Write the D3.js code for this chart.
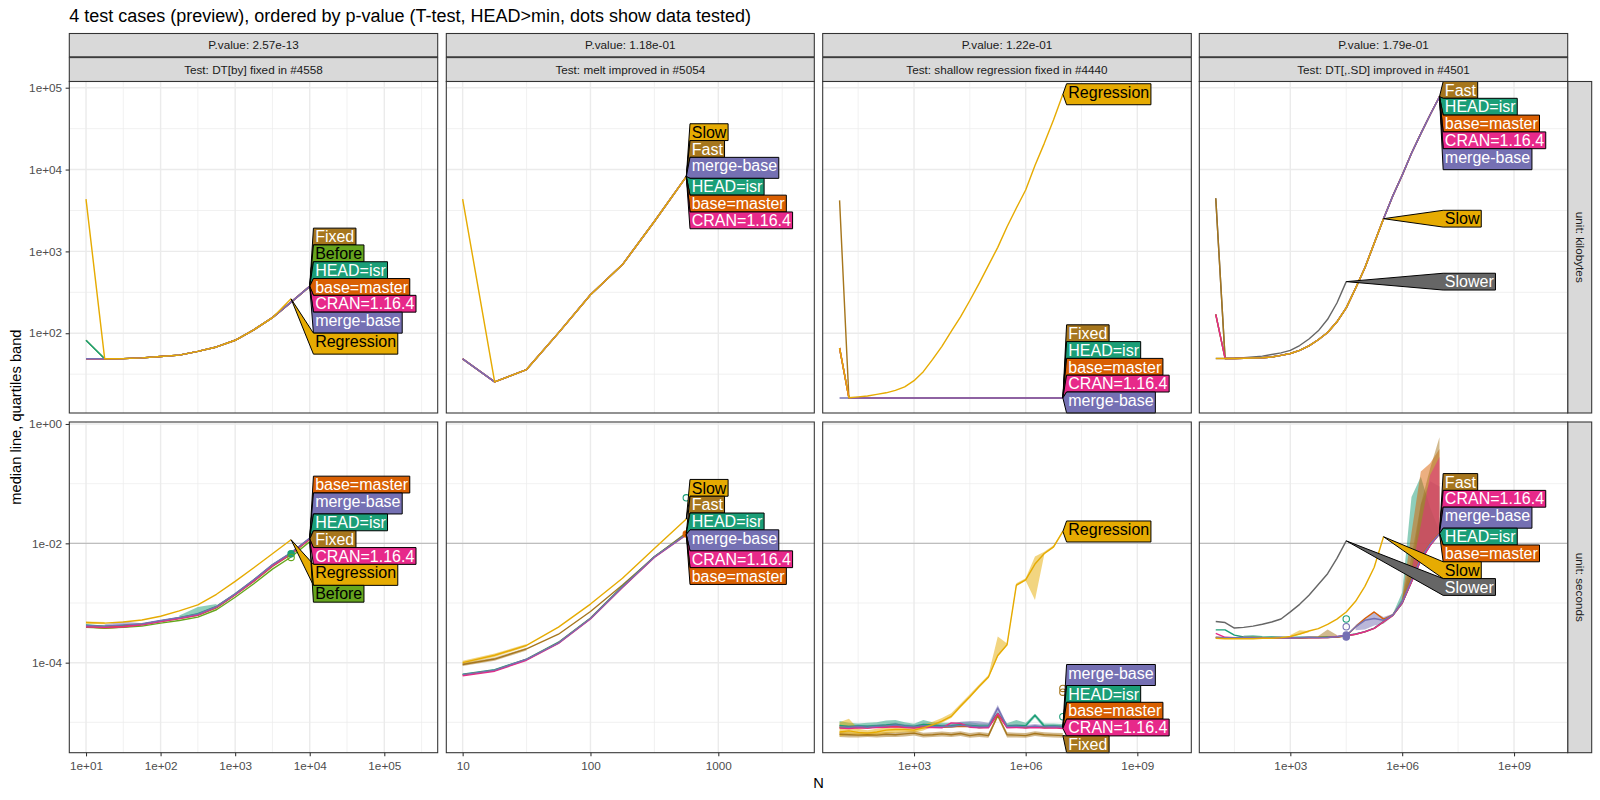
<!DOCTYPE html>
<html><head><meta charset="utf-8">
<script src="https://cdn.jsdelivr.net/npm/d3@7"></script>
<style>
body{margin:0;background:#fff}
svg{display:block}
text{font-family:"Liberation Sans",Arial,Helvetica,sans-serif}
</style>
</head><body>
<svg id="c" width="1600" height="800"></svg>
<script>
// ------------------------------------------------------------------ data
const title = "4 test cases (preview), ordered by p-value (T-test, HEAD>min, dots show data tested)";
const testNames = ["Test: DT[by] fixed in #4558", "Test: melt improved in #5054", "Test: shallow regression fixed in #4440", "Test: DT[,.SD] improved in #4501"];
const pValueLabels = ["P.value: 2.57e-13", "P.value: 1.18e-01", "P.value: 1.22e-01", "P.value: 1.79e-01"];
const unitLabels = ["unit: kilobytes", "unit: seconds"];
const yTitle = "median line, quartiles band";
const xTitle = "N";

const seriesColors = {
  "HEAD=isr": "#1B9E77", "base=master": "#D95F02", "merge-base": "#7570B3", "CRAN=1.16.4": "#E7298A",
  "Before": "#66A61E", "Regression": "#E6AB02", "Slow": "#E6AB02", "Fixed": "#A6761D", "Fast": "#A6761D", "Slower": "#666666"
};
const darkTextSeries = ["Before", "Regression", "Slow"];
const drawOrder = ["Slower", "Before", "Fixed", "Fast", "HEAD=isr", "base=master", "CRAN=1.16.4", "merge-base", "Regression", "Slow"];

const N_13 = [10, 17.8, 31.6, 56.2, 100, 178, 316, 562, 1000, 1778, 3162, 5623, 10000];
const N_8 = [10, 17.8, 31.6, 56.2, 100, 178, 316, 562];
const N_25 = [10, 17.8, 31.6, 56.2, 100, 178, 316, 562, 1000, 1778, 3162, 5623, 10000, 17783, 31623, 56234, 100000, 177828, 316228, 562341, 1000000, 1778279, 3162278, 5623413, 10000000];

// axes
const xTickValues = [[10, 100, 1000, 10000, 100000], [10, 100, 1000], [1e3, 1e6, 1e9], [1e3, 1e6, 1e9]];
const xTickLabels = [["1e+01", "1e+02", "1e+03", "1e+04", "1e+05"], ["10", "100", "1000"], ["1e+03", "1e+06", "1e+09"], ["1e+03", "1e+06", "1e+09"]];
const xDomains = [[5.97, 520000], [7.45, 5636], [3.52, 2.82e10], [3.62, 2.75e10]];
const yTickValues = [[1e2, 1e3, 1e4, 1e5], [1e-4, 1e-2, 1]];
const yTickLabels = [["1e+02", "1e+03", "1e+04", "1e+05"], ["1e-04", "1e-02", "1e+00"]];
const yDomains = [[10.6, 119100], [3.1e-6, 1.08]];
const secondsRefLine = [0.01];

// ---- DT[by] fixed in #4558
const kbDTby = {
  "HEAD=isr":    [82, 48.7, 49, 50, 52, 54, 60, 68, 82, 110, 155, 240, 374],
  "base=master": [48.7, 48.7, 49, 50, 52, 54, 60, 68, 82, 110, 155, 240, 374],
  "merge-base":  [48.7, 48.7, 49, 50, 52, 54, 60, 68, 82, 110, 155, 240, 374],
  "CRAN=1.16.4": [48.7, 48.7, 49, 50, 52, 54, 60, 68, 82, 110, 155, 240, 374],
  "Before":      [82, 48.7, 49, 50, 52, 54, 60, 68, 82, 110, 155, 240, 374],
  "Fixed":       [48.7, 48.7, 49, 50, 52, 54, 60, 68, 82, 110, 155, 240, 374],
  "Regression":  [4350, 48.7, 49, 50, 52, 54, 60, 68, 82, 110, 155, 263]
};
const secDTby = {
  "HEAD=isr":    [4.3e-4, 4.1e-4, 4.2e-4, 4.4e-4, 5.0e-4, 5.7e-4, 6.6e-4, 8.8e-4, 1.42e-3, 2.45e-3, 4.35e-3, 6.9e-3, 1.22e-2],
  "base=master": [4.1e-4, 3.95e-4, 4.1e-4, 4.4e-4, 5.0e-4, 5.6e-4, 6.4e-4, 8.6e-4, 1.4e-3, 2.4e-3, 4.3e-3, 6.8e-3, 1.2e-2],
  "merge-base":  [4.2e-4, 4.1e-4, 4.3e-4, 4.5e-4, 5.1e-4, 5.7e-4, 6.5e-4, 8.7e-4, 1.42e-3, 2.45e-3, 4.4e-3, 7.0e-3, 1.23e-2],
  "CRAN=1.16.4": [4.0e-4, 3.9e-4, 4.0e-4, 4.3e-4, 4.9e-4, 5.5e-4, 6.3e-4, 8.5e-4, 1.38e-3, 2.35e-3, 4.2e-3, 6.7e-3, 1.19e-2],
  "Before":      [3.9e-4, 3.8e-4, 3.9e-4, 4.1e-4, 4.6e-4, 5.1e-4, 5.8e-4, 7.7e-4, 1.25e-3, 2.1e-3, 3.7e-3, 5.9e-3, 1.07e-2],
  "Fixed":       [4.0e-4, 3.8e-4, 3.95e-4, 4.3e-4, 4.9e-4, 5.5e-4, 6.2e-4, 8.3e-4, 1.36e-3, 2.3e-3, 4.1e-3, 6.5e-3, 1.17e-2],
  "Regression":  [4.7e-4, 4.6e-4, 4.8e-4, 5.2e-4, 6.0e-4, 7.4e-4, 9.3e-4, 1.4e-3, 2.3e-3, 3.9e-3, 6.7e-3, 1.15e-2]
};
// bands: [series, start index, lower quartiles, upper quartiles]
const bandsDTby = [
  ["Fixed", 0, [3.9e-4, 3.7e-4, 3.85e-4], [4.1e-4, 3.95e-4, 4.05e-4]],
  ["Regression", 0, [4.5e-4, 4.4e-4], [4.9e-4, 4.8e-4]],
  ["merge-base", 1, [3.95e-4, 4.0e-4, 4.3e-4], [4.4e-4, 4.9e-4, 4.6e-4]],
  ["HEAD=isr", 5, [5.5e-4, 6.4e-4, 8.6e-4], [6.2e-4, 8.6e-4, 9.6e-4]]
];

// ---- melt improved in #5054
const kbMelt = {
  "Fast":        [48.7, 25.5, 36, 101, 295, 690, 2320, 8200],
  "HEAD=isr":    [48.7, 25.5, 36, 101, 295, 690, 2320, 8200],
  "base=master": [48.7, 25.5, 36, 101, 295, 690, 2320, 8200],
  "CRAN=1.16.4": [48.7, 25.5, 36, 101, 295, 690, 2320, 8200],
  "merge-base":  [48.7, 25.5, 36, 101, 295, 690, 2320, 8200],
  "Slow":        [4350, 25.5, 36, 101, 295, 690, 2320, 8200]
};
const secMelt = {
  "Slow":        [1.0e-4, 1.33e-4, 1.95e-4, 3.95e-4, 9.6e-4, 2.6e-3, 8.2e-3, 2.55e-2],
  "Fast":        [9.3e-5, 1.15e-4, 1.7e-4, 3.0e-4, 7.2e-4, 2.0e-3, 5.9e-3, 1.5e-2],
  "HEAD=isr":    [6.4e-5, 7.6e-5, 1.15e-4, 2.2e-4, 5.6e-4, 1.9e-3, 6.0e-3, 1.45e-2],
  "merge-base":  [6.3e-5, 7.5e-5, 1.14e-4, 2.15e-4, 5.5e-4, 1.85e-3, 5.9e-3, 1.4e-2],
  "CRAN=1.16.4": [6.0e-5, 7.2e-5, 1.1e-4, 2.1e-4, 5.4e-4, 1.82e-3, 5.8e-3, 1.38e-2],
  "base=master": [6.2e-5, 7.4e-5, 1.13e-4, 2.15e-4, 5.5e-4, 1.85e-3, 5.9e-3, 1.42e-2]
};
const bandsMelt = [
  ["Slow", 0, [9.5e-5, 1.25e-4, 1.85e-4], [1.08e-4, 1.42e-4, 2.05e-4]],
  ["Fast", 0, [8.8e-5, 1.08e-4, 1.6e-4], [9.8e-5, 1.22e-4, 1.78e-4]]
];

// ---- shallow regression fixed in #4440
const kbShallow = {
  "Fixed":       [4200, 16.2, 16.2, 16.2, 16.2, 16.2, 16.2, 16.2, 16.2, 16.2, 16.2, 16.2, 16.2, 16.2, 16.2, 16.2, 16.2, 16.2, 16.2, 16.2, 16.2, 16.2, 16.2, 16.2, 16.2],
  "HEAD=isr":    [66, 16.2, 16.2, 16.2, 16.2, 16.2, 16.2, 16.2, 16.2, 16.2, 16.2, 16.2, 16.2, 16.2, 16.2, 16.2, 16.2, 16.2, 16.2, 16.2, 16.2, 16.2, 16.2, 16.2, 16.2],
  "base=master": [66, 16.2, 16.2, 16.2, 16.2, 16.2, 16.2, 16.2, 16.2, 16.2, 16.2, 16.2, 16.2, 16.2, 16.2, 16.2, 16.2, 16.2, 16.2, 16.2, 16.2, 16.2, 16.2, 16.2, 16.2],
  "CRAN=1.16.4": [66, 16.2, 16.2, 16.2, 16.2, 16.2, 16.2, 16.2, 16.2, 16.2, 16.2, 16.2, 16.2, 16.2, 16.2, 16.2, 16.2, 16.2, 16.2, 16.2, 16.2, 16.2, 16.2, 16.2, 16.2],
  "merge-base":  [16.2, 16.2, 16.2, 16.2, 16.2, 16.2, 16.2, 16.2, 16.2, 16.2, 16.2, 16.2, 16.2, 16.2, 16.2, 16.2, 16.2, 16.2, 16.2, 16.2, 16.2, 16.2, 16.2, 16.2, 16.2],
  "Regression":  [66, 16.3, 16.7, 17.1, 17.9, 18.7, 20.0, 22.1, 26.3, 33.9, 47.9, 69.2, 105, 158, 251, 407, 676, 1120, 2000, 3390, 5620, 11200, 20900, 40700, 83200]
};
const secShallow = {
  "Fixed":       [6.3e-6, 6.2e-6, 6.1e-6, 6.2e-6, 6.1e-6, 6.3e-6, 6.2e-6, 6.4e-6, 6.6e-6, 6.1e-6, 6.2e-6, 6.4e-6, 6.2e-6, 6.5e-6, 6.0e-6, 6.3e-6, 6.0e-6, 1.3e-5, 6.2e-6, 6.1e-6, 6.0e-6, 6.5e-6, 6.2e-6, 6.1e-6, 6.0e-6],
  "HEAD=isr":    [8.9e-6, 8.5e-6, 8.7e-6, 8.6e-6, 8.8e-6, 9.0e-6, 9.3e-6, 8.8e-6, 8.5e-6, 9.2e-6, 9.0e-6, 8.7e-6, 8.8e-6, 9.1e-6, 8.9e-6, 8.6e-6, 8.7e-6, 1.41e-5, 8.7e-6, 8.9e-6, 8.8e-6, 1.32e-5, 8.6e-6, 8.7e-6, 8.5e-6],
  "base=master": [8.2e-6, 8.1e-6, 8.3e-6, 8.1e-6, 8.4e-6, 8.5e-6, 8.6e-6, 8.4e-6, 8.2e-6, 8.6e-6, 8.4e-6, 8.3e-6, 8.4e-6, 8.6e-6, 8.5e-6, 8.2e-6, 8.3e-6, 1.38e-5, 8.3e-6, 8.4e-6, 8.2e-6, 8.4e-6, 8.2e-6, 8.3e-6, 8.1e-6],
  "CRAN=1.16.4": [8.0e-6, 7.9e-6, 8.1e-6, 8.0e-6, 8.2e-6, 8.3e-6, 8.4e-6, 8.2e-6, 8.0e-6, 8.3e-6, 8.2e-6, 8.1e-6, 9.8e-6, 9.6e-6, 8.3e-6, 8.1e-6, 8.1e-6, 1.4e-5, 8.1e-6, 8.2e-6, 8.0e-6, 8.2e-6, 8.0e-6, 8.1e-6, 7.9e-6],
  "merge-base":  [8.4e-6, 8.3e-6, 8.5e-6, 8.3e-6, 8.6e-6, 8.7e-6, 9.0e-6, 8.6e-6, 8.4e-6, 8.8e-6, 8.6e-6, 8.5e-6, 8.5e-6, 8.9e-6, 8.7e-6, 8.4e-6, 8.5e-6, 1.74e-5, 8.5e-6, 8.6e-6, 8.4e-6, 8.7e-6, 8.4e-6, 8.5e-6, 8.3e-6],
  "Regression":  [6.9e-6, 7.2e-6, 6.8e-6, 6.6e-6, 6.9e-6, 7.4e-6, 7.6e-6, 7.6e-6, 7.4e-6, 8.1e-6, 9.1e-6, 1.05e-5, 1.26e-5, 1.86e-5, 2.69e-5, 3.98e-5, 5.75e-5, 1.32e-4, 2.0e-4, 2.0e-3, 2.45e-3, 4.5e-3, 6.76e-3, 8.71e-3, 1.58e-2]
};
const bandsShallow = [
  ["Fixed", 0,
    [5.7e-6, 5.6e-6, 5.6e-6, 5.7e-6, 5.6e-6, 5.7e-6, 5.7e-6, 5.8e-6, 6.0e-6, 5.6e-6, 5.7e-6, 5.8e-6, 5.7e-6, 5.9e-6, 5.5e-6, 5.7e-6, 5.5e-6, 1.2e-5, 5.6e-6, 5.6e-6, 5.5e-6, 5.9e-6, 5.7e-6, 5.6e-6, 5.5e-6],
    [6.9e-6, 6.8e-6, 6.7e-6, 6.8e-6, 6.7e-6, 6.9e-6, 6.8e-6, 7.0e-6, 7.2e-6, 6.7e-6, 6.8e-6, 7.0e-6, 6.8e-6, 7.1e-6, 6.6e-6, 6.9e-6, 6.6e-6, 1.42e-5, 6.8e-6, 6.7e-6, 6.6e-6, 7.1e-6, 6.8e-6, 6.7e-6, 6.6e-6]],
  ["HEAD=isr", 0,
    [8.2e-6, 8.0e-6, 8.1e-6, 8.0e-6, 8.2e-6, 8.3e-6, 8.5e-6, 8.2e-6, 8.0e-6, 8.5e-6, 8.4e-6, 8.1e-6, 8.2e-6, 8.4e-6, 8.3e-6, 8.0e-6, 8.1e-6, 1.3e-5, 8.1e-6, 8.3e-6, 8.2e-6, 1.2e-5, 8.0e-6, 8.1e-6, 7.9e-6],
    [1.05e-5, 9.8e-6, 9.6e-6, 9.8e-6, 1.0e-5, 1.07e-5, 1.1e-5, 1.0e-5, 9.5e-6, 1.1e-5, 1.0e-5, 9.8e-6, 9.8e-6, 1.0e-5, 1.0e-5, 9.6e-6, 9.6e-6, 1.5e-5, 9.7e-6, 1.1e-5, 9.8e-6, 1.4e-5, 9.6e-6, 9.6e-6, 9.4e-6]],
  ["merge-base", 0,
    [8.0e-6, 7.9e-6, 8.1e-6, 7.9e-6, 8.2e-6, 8.3e-6, 8.5e-6, 8.2e-6, 8.0e-6, 8.4e-6, 8.2e-6, 8.1e-6, 8.1e-6, 8.5e-6, 8.3e-6, 8.0e-6, 8.1e-6, 1.5e-5, 8.1e-6, 8.2e-6, 8.0e-6, 8.3e-6, 8.0e-6, 8.1e-6, 7.9e-6],
    [9.0e-6, 8.9e-6, 9.1e-6, 8.9e-6, 9.2e-6, 9.4e-6, 9.8e-6, 9.3e-6, 9.0e-6, 9.6e-6, 9.4e-6, 9.2e-6, 9.3e-6, 1.02e-5, 1.05e-5, 1.04e-5, 9.8e-6, 1.95e-5, 9.2e-6, 9.3e-6, 9.0e-6, 9.4e-6, 9.0e-6, 9.1e-6, 8.9e-6]],
  ["Regression", 0,
    [5.8e-6, 6.2e-6, 6.0e-6, 5.9e-6, 6.1e-6, 6.5e-6, 6.7e-6, 6.8e-6, 6.7e-6, 7.3e-6, 8.4e-6, 9.8e-6, 1.18e-5, 1.75e-5, 2.55e-5, 3.8e-5, 5.5e-5, 1.26e-4, 1.95e-4, 1.9e-3, 2.35e-3, 1.12e-3, 6.5e-3, 8.4e-3, 1.52e-2],
    [1.0e-5, 1.15e-5, 7.8e-6, 7.4e-6, 7.8e-6, 8.2e-6, 8.5e-6, 8.6e-6, 8.6e-6, 9.2e-6, 1.02e-5, 1.18e-5, 1.42e-5, 2.05e-5, 2.95e-5, 4.3e-5, 6.2e-5, 2.75e-4, 2.1e-4, 2.15e-3, 2.6e-3, 6.0e-3, 7.2e-3, 9.3e-3, 1.65e-2]]
];

// ---- DT[,.SD] improved in #4501
const kbSD = {
  "Slower":      [4470, 49.2, 49.5, 50.1, 51.3, 52.5, 55.0, 57.5, 61.7, 70.8, 85.1, 107, 148, 234, 427],
  "Fast":        [4470, 49.2, 49.2, 49.5, 49.8, 50.1, 51.3, 53.7, 56.5, 61.7, 70.0, 83.2, 102, 138, 204, 355, 631, 1260, 2510, 4790, 8510, 15800, 27500, 46800, 77600],
  "HEAD=isr":    [170, 49.2, 49.2, 49.5, 49.8, 50.1, 51.3, 53.7, 56.5, 61.7, 70.0, 83.2, 102, 138, 204, 355, 631, 1260, 2510, 4790, 8510, 15800, 27500, 46800, 77600],
  "base=master": [170, 49.2, 49.2, 49.5, 49.8, 50.1, 51.3, 53.7, 56.5, 61.7, 70.0, 83.2, 102, 138, 204, 355, 631, 1260, 2510, 4790, 8510, 15800, 27500, 46800, 77600],
  "CRAN=1.16.4": [170, 49.2, 49.2, 49.5, 49.8, 50.1, 51.3, 53.7, 56.5, 61.7, 70.0, 83.2, 102, 138, 204, 355, 631, 1260, 2510, 4790, 8510, 15800, 27500, 46800, 77600],
  "merge-base":  [49.2, 49.2, 49.2, 49.5, 49.8, 50.1, 51.3, 53.7, 56.5, 61.7, 70.0, 83.2, 102, 138, 204, 355, 631, 1260, 2510, 4790, 8510, 15800, 27500, 46800, 77600],
  "Slow":        [49.2, 49.2, 49.2, 49.5, 49.8, 50.1, 51.3, 53.7, 56.5, 61.7, 70.0, 83.2, 102, 138, 204, 355, 631, 1260, 2510]
};
const secSD = {
  "Slower":      [4.9e-4, 4.7e-4, 3.8e-4, 3.9e-4, 4.1e-4, 4.4e-4, 4.8e-4, 5.4e-4, 7.1e-4, 9.5e-4, 1.35e-3, 2.04e-3, 3.1e-3, 5.6e-3, 1.1e-2],
  "Fast":        [2.62e-4, 2.6e-4, 2.62e-4, 2.61e-4, 2.6e-4, 2.62e-4, 2.6e-4, 2.63e-4, 2.61e-4, 2.6e-4, 2.64e-4, 2.66e-4, 2.7e-4, 2.68e-4, 2.8e-4, 3.0e-4, 3.28e-4, 3.75e-4, 4.8e-4, 6.2e-4, 9.9e-4, 2.3e-3, 5.3e-3, 9.4e-3, 1.46e-2],
  "HEAD=isr":    [3.55e-4, 3.55e-4, 2.9e-4, 2.7e-4, 2.68e-4, 2.66e-4, 2.7e-4, 2.68e-4, 2.65e-4, 2.67e-4, 2.66e-4, 2.64e-4, 2.68e-4, 2.72e-4, 2.85e-4, 3.02e-4, 3.31e-4, 3.8e-4, 4.9e-4, 6.31e-4, 1.0e-3, 2.29e-3, 5.25e-3, 9.33e-3, 1.45e-2],
  "base=master": [2.64e-4, 2.62e-4, 2.6e-4, 2.62e-4, 2.64e-4, 2.61e-4, 2.6e-4, 2.62e-4, 2.63e-4, 2.6e-4, 2.62e-4, 2.64e-4, 2.63e-4, 2.7e-4, 2.82e-4, 3.98e-4, 5.5e-4, 7.08e-4, 5.37e-4, 6.31e-4, 1.05e-3, 2.57e-3, 6.03e-3, 1.0e-2, 1.48e-2],
  "CRAN=1.16.4": [3.1e-4, 2.66e-4, 2.62e-4, 2.64e-4, 2.63e-4, 2.6e-4, 2.62e-4, 2.64e-4, 2.6e-4, 2.63e-4, 2.65e-4, 2.62e-4, 2.64e-4, 2.75e-4, 2.82e-4, 3.0e-4, 3.3e-4, 3.75e-4, 4.85e-4, 6.2e-4, 1.0e-3, 2.25e-3, 5.2e-3, 9.2e-3, 1.44e-2],
  "merge-base":  [2.66e-4, 2.63e-4, 2.61e-4, 2.63e-4, 2.62e-4, 2.6e-4, 2.63e-4, 2.62e-4, 2.6e-4, 2.62e-4, 2.64e-4, 2.63e-4, 2.65e-4, 2.72e-4, 2.85e-4, 3.98e-4, 5.13e-4, 5.5e-4, 5.13e-4, 6.31e-4, 1.05e-3, 2.45e-3, 5.75e-3, 9.77e-3, 1.45e-2],
  "Slow":        [2.57e-4, 2.51e-4, 2.51e-4, 2.51e-4, 2.51e-4, 2.57e-4, 2.57e-4, 2.63e-4, 2.75e-4, 3.02e-4, 3.39e-4, 3.72e-4, 4.37e-4, 5.37e-4, 7.08e-4, 1.07e-3, 1.9e-3, 3.98e-3, 1.29e-2]
};
const bandsSD = [
  ["HEAD=isr", 3, [2.6e-4, 2.6e-4, 2.6e-4], [2.85e-4, 2.9e-4, 2.8e-4]],
  ["Slow", 8, [2.7e-4, 2.95e-4, 3.25e-4], [2.9e-4, 3.5e-4, 3.4e-4]],
  ["Fast", 11, [2.6e-4, 2.65e-4, 2.65e-4], [2.8e-4, 3.6e-4, 2.9e-4]],
  ["merge-base", 15, [3.5e-4, 3.6e-4, 4.2e-4, 4.5e-4, 6.0e-4, 1.0e-3, 2.3e-3, 5.5e-3, 9.3e-3, 1.4e-2], [4.3e-4, 5.6e-4, 7.0e-4, 5.8e-4, 6.6e-4, 1.2e-3, 4.0e-3, 4.5e-2, 1.1e-1, 9.0e-2]],
  ["HEAD=isr", 19, [6.0e-4, 9.5e-4, 2.1e-3, 5.0e-3, 9.0e-3, 1.4e-2], [6.6e-4, 1.5e-3, 6.0e-2, 1.3e-1, 4.0e-2, 1.6e-2]],
  ["base=master", 20, [1.0e-3, 2.4e-3, 5.5e-3, 9.5e-3, 1.42e-2], [1.2e-3, 1.5e-2, 1.6e-1, 2.2e-1, 3.8e-1]],
  ["Fast", 20, [9.5e-4, 2.2e-3, 5.0e-3, 9.0e-3, 1.4e-2], [1.2e-3, 6.0e-3, 4.5e-2, 1.8e-1, 6.0e-1]],
  ["CRAN=1.16.4", 21, [2.2e-3, 5.0e-3, 9.0e-3, 1.4e-2], [3.5e-3, 2.0e-2, 1.4e-1, 2.8e-1]]
];

// tested-data dots: [row, col, series, N, value, filled]
const testedDots = [
  [1, 0, "HEAD=isr", 5623, 6.7e-3, true], [1, 0, "Before", 5623, 5.8e-3, false],
  [1, 1, "HEAD=isr", 562, 5.8e-2, false], [1, 1, "base=master", 562, 1.44e-2, true],
  [1, 2, "Fixed", 10000000, 3.2e-5, false], [1, 2, "Fixed", 10000000, 3.7e-5, false], [1, 2, "HEAD=isr", 10000000, 1.24e-5, false],
  [1, 3, "HEAD=isr", 31623, 5.4e-4, false], [1, 3, "merge-base", 31623, 4.0e-4, false],
  [1, 3, "merge-base", 31623, 2.9e-4, true], [1, 3, "merge-base", 31623, 2.7e-4, true]
];

// direct-label stacking order (top to bottom) for each panel [row][col]
const labelOrder = [
  [["Fixed", "Before", "HEAD=isr", "base=master", "CRAN=1.16.4", "merge-base", "Regression"],
   ["Slow", "Fast", "merge-base", "HEAD=isr", "base=master", "CRAN=1.16.4"],
   ["Regression", "Fixed", "HEAD=isr", "base=master", "CRAN=1.16.4", "merge-base"],
   ["Fast", "HEAD=isr", "base=master", "CRAN=1.16.4", "merge-base", "Slow", "Slower"]],
  [["base=master", "merge-base", "HEAD=isr", "Fixed", "CRAN=1.16.4", "Regression", "Before"],
   ["Slow", "Fast", "HEAD=isr", "merge-base", "CRAN=1.16.4", "base=master"],
   ["Regression", "merge-base", "HEAD=isr", "base=master", "CRAN=1.16.4", "Fixed"],
   ["Fast", "CRAN=1.16.4", "merge-base", "HEAD=isr", "base=master", "Slow", "Slower"]]
];

// ------------------------------------------------------------------ layout
const panelN = [N_13, N_8, N_25, N_25];
const panelValues = [[kbDTby, kbMelt, kbShallow, kbSD], [secDTby, secMelt, secShallow, secSD]];
const panelBands = [[[], [], [], []], [bandsDTby, bandsMelt, bandsShallow, bandsSD]];

const colX = [[69.3, 437.7], [446.3, 814.3], [822.7, 1191.3], [1199.3, 1567.7]];
const rowY = [[81.5, 413.0], [422.0, 752.7]];
const stripRight = [1567.7, 1591.7];

const svg = d3.select("#c");
const C_BORDER = "#333333", C_GRID = "#EBEBEB", C_STRIP = "#D9D9D9";
const LW = 1.42;

const xs = colX.map((r, c) => d3.scaleLog().domain(xDomains[c]).range(r));
const ys = rowY.map((r, i) => d3.scaleLog().domain(yDomains[i]).range([r[1], r[0]]));

function minorBreaks(majors, domain) {
  const lg = majors.map(Math.log10);
  const step = lg.length > 1 ? lg[1] - lg[0] : 1;
  const out = [];
  for (let i = -1; i < lg.length; i++) {
    const base = i < 0 ? lg[0] - step : lg[i];
    const v = Math.pow(10, base + step / 2);
    if (v > domain[0] && v < domain[1]) out.push(v);
  }
  return out;
}

// title
svg.append("text").attr("x", 69.3).attr("y", 22).attr("font-size", "18px").attr("fill", "#000").text(title);

// measuring helper
const meas = svg.append("text").attr("font-size", "16px").attr("x", -1000).attr("y", -1000);
function textW(s) { meas.text(s); return meas.node().getComputedTextLength(); }

// top strips
colX.forEach((r, c) => {
  const w = r[1] - r[0];
  const g = svg.append("g");
  g.append("rect").attr("x", r[0]).attr("y", 33.5).attr("width", w).attr("height", 23.3)
    .attr("fill", C_STRIP).attr("stroke", C_BORDER).attr("stroke-width", 1.07);
  g.append("rect").attr("x", r[0]).attr("y", 57.6).attr("width", w).attr("height", 23.9)
    .attr("fill", C_STRIP).attr("stroke", C_BORDER).attr("stroke-width", 1.07);
  g.append("text").attr("x", (r[0] + r[1]) / 2).attr("y", 45.2 + 4.1).attr("text-anchor", "middle")
    .attr("font-size", "11.73px").attr("fill", "#1A1A1A").text(pValueLabels[c]);
  g.append("text").attr("x", (r[0] + r[1]) / 2).attr("y", 69.5 + 4.1).attr("text-anchor", "middle")
    .attr("font-size", "11.73px").attr("fill", "#1A1A1A").text(testNames[c]);
});
// right strips
rowY.forEach((r, i) => {
  svg.append("rect").attr("x", stripRight[0]).attr("y", r[0]).attr("width", stripRight[1] - stripRight[0]).attr("height", r[1] - r[0])
    .attr("fill", C_STRIP).attr("stroke", C_BORDER).attr("stroke-width", 1.07);
  const cx = (stripRight[0] + stripRight[1]) / 2 - 4.1, cy = (r[0] + r[1]) / 2;
  svg.append("text").attr("transform", `translate(${cx},${cy}) rotate(90)`).attr("text-anchor", "middle")
    .attr("font-size", "11.73px").attr("fill", "#1A1A1A").text(unitLabels[i]);
});

function stackLabels(targets, heights, top, bottom) {
  const n = targets.length, o = [0];
  for (let i = 1; i < n; i++) o[i] = o[i - 1] + (heights[i - 1] + heights[i]) / 2;
  const u = targets.map((t, i) => t - o[i]);
  const blocks = [];
  u.forEach(v => {
    blocks.push({ s: v, c: 1 });
    while (blocks.length > 1) {
      const a = blocks[blocks.length - 2], b = blocks[blocks.length - 1];
      if (a.s / a.c > b.s / b.c) { a.s += b.s; a.c += b.c; blocks.pop(); } else break;
    }
  });
  const s = [];
  blocks.forEach(b => { for (let k = 0; k < b.c; k++) s.push(b.s / b.c); });
  const L = top + heights[0] / 2, U = bottom - heights[n - 1] / 2 - o[n - 1];
  return s.map((v, i) => Math.min(Math.max(v, L), U) + o[i]);
}

for (let r = 0; r < 2; r++) {
  for (let c = 0; c < 4; c++) {
    const x = xs[c], y = ys[r];
    const [x0, x1] = colX[c], [y0, y1] = rowY[r];
    const g = svg.append("g");
    g.append("rect").attr("x", x0).attr("y", y0).attr("width", x1 - x0).attr("height", y1 - y0).attr("fill", "#fff");
    // grids
    minorBreaks(xTickValues[c], xDomains[c]).forEach(v => g.append("line").attr("x1", x(v)).attr("x2", x(v)).attr("y1", y0).attr("y2", y1)
      .attr("stroke", C_GRID).attr("stroke-width", LW / 2));
    minorBreaks(yTickValues[r], yDomains[r]).forEach(v => g.append("line").attr("y1", y(v)).attr("y2", y(v)).attr("x1", x0).attr("x2", x1)
      .attr("stroke", C_GRID).attr("stroke-width", LW / 2));
    xTickValues[c].forEach(v => { if (v > xDomains[c][0] && v < xDomains[c][1]) g.append("line").attr("x1", x(v)).attr("x2", x(v)).attr("y1", y0).attr("y2", y1)
      .attr("stroke", C_GRID).attr("stroke-width", LW); });
    yTickValues[r].forEach(v => g.append("line").attr("y1", y(v)).attr("y2", y(v)).attr("x1", x0).attr("x2", x1)
      .attr("stroke", C_GRID).attr("stroke-width", LW));
    if (r === 1) secondsRefLine.forEach(v => g.append("line").attr("y1", y(v)).attr("y2", y(v)).attr("x1", x0).attr("x2", x1)
      .attr("stroke", "#BEBEBE").attr("stroke-width", LW));

    const Ns = panelN[c], vals = panelValues[r][c];
    const names = drawOrder.filter(n => vals[n]);
    // ribbons
    panelBands[r][c].forEach(([name, start, lo, hi]) => {
      const pts = lo.map((l, k) => ({ n: Ns[start + k], lo: l, hi: hi[k] }));
      g.append("path").datum(pts)
        .attr("d", d3.area().x(d => x(d.n)).y0(d => y(d.lo)).y1(d => y(d.hi)))
        .attr("fill", seriesColors[name]).attr("fill-opacity", 0.5).attr("stroke", "none");
    });
    // lines
    names.forEach(name => {
      const pts = vals[name].map((v, k) => [Ns[k], v]);
      g.append("path").datum(pts)
        .attr("d", d3.line().x(d => x(d[0])).y(d => y(d[1])))
        .attr("fill", "none").attr("stroke", seriesColors[name]).attr("stroke-width", LW)
        .attr("stroke-linejoin", "round");
    });
    // dots
    testedDots.filter(d => d[0] === r && d[1] === c).forEach(d => {
      g.append("circle").attr("cx", x(d[3])).attr("cy", y(d[4])).attr("r", 3.2)
        .attr("fill", d[5] ? seriesColors[d[2]] : "none").attr("stroke", seriesColors[d[2]]).attr("stroke-width", 1.1);
    });
    // direct labels
    const order = labelOrder[r][c];
    const ends = order.map(name => { const v = vals[name]; const k = v.length - 1; return [x(Ns[k]), y(v[k])]; });
    const maxX = d3.max(names.map(name => x(Ns[vals[name].length - 1])));
    const heights = order.map(name => /[gjpqy]/.test(name) ? 21 : 16.8);
    const centers = stackLabels(ends.map(e => e[1]), heights, y0, y1);
    const left = maxX + 3.7;
    order.forEach((name, i) => {
      const top = centers[i] - heights[i] / 2, bot = centers[i] + heights[i] / 2;
      const w = textW(name) + 3.4;
      const [tx, ty] = ends[i];
      g.append("path").attr("d", `M${tx},${ty}L${left},${top}L${left + w},${top}L${left + w},${bot}L${left},${bot}Z`)
        .attr("fill", seriesColors[name]).attr("stroke", "#000").attr("stroke-width", 1).attr("stroke-linejoin", "miter");
      g.append("text").attr("x", left + 1.7).attr("y", top + 14.1).attr("font-size", "16px")
        .attr("fill", darkTextSeries.includes(name) ? "#000" : "#fff").text(name);
    });
    // border
    g.append("rect").attr("x", x0).attr("y", y0).attr("width", x1 - x0).attr("height", y1 - y0)
      .attr("fill", "none").attr("stroke", C_BORDER).attr("stroke-width", 1.07);

    // axes
    if (c === 0) {
      const ax = svg.append("g").attr("transform", `translate(${x0},0)`)
        .call(d3.axisLeft(y).tickValues(yTickValues[r]).tickFormat((d, i) => yTickLabels[r][i]).tickSize(3.67).tickSizeOuter(0).tickPadding(3.6));
      ax.select(".domain").remove();
      ax.selectAll(".tick line").attr("stroke", C_BORDER).attr("stroke-width", 1.07);
      ax.selectAll(".tick text").attr("fill", "#4D4D4D").attr("font-size", "11.73px")
        .attr("font-family", '"Liberation Sans",Arial,Helvetica,sans-serif');
    }
    if (r === 1) {
      const ax = svg.append("g").attr("transform", `translate(0,${y1})`)
        .call(d3.axisBottom(x).tickValues(xTickValues[c]).tickFormat((d, i) => xTickLabels[c][i]).tickSize(3.67).tickSizeOuter(0));
      ax.select(".domain").remove();
      ax.selectAll(".tick line").attr("stroke", C_BORDER).attr("stroke-width", 1.07);
      ax.selectAll(".tick text").attr("fill", "#4D4D4D").attr("font-size", "11.73px").attr("dy", null).attr("y", 17.8)
        .attr("font-family", '"Liberation Sans",Arial,Helvetica,sans-serif');
    }
  }
}
meas.remove();

// axis titles
svg.append("text").attr("transform", `translate(21,${(rowY[0][0] + rowY[1][1]) / 2}) rotate(-90)`)
  .attr("text-anchor", "middle").attr("font-size", "14.67px").attr("fill", "#000").text(yTitle);
svg.append("text").attr("x", (colX[0][0] + colX[3][1]) / 2).attr("y", 788).attr("text-anchor", "middle")
  .attr("font-size", "14.67px").attr("fill", "#000").text(xTitle);
</script>
</body></html>
